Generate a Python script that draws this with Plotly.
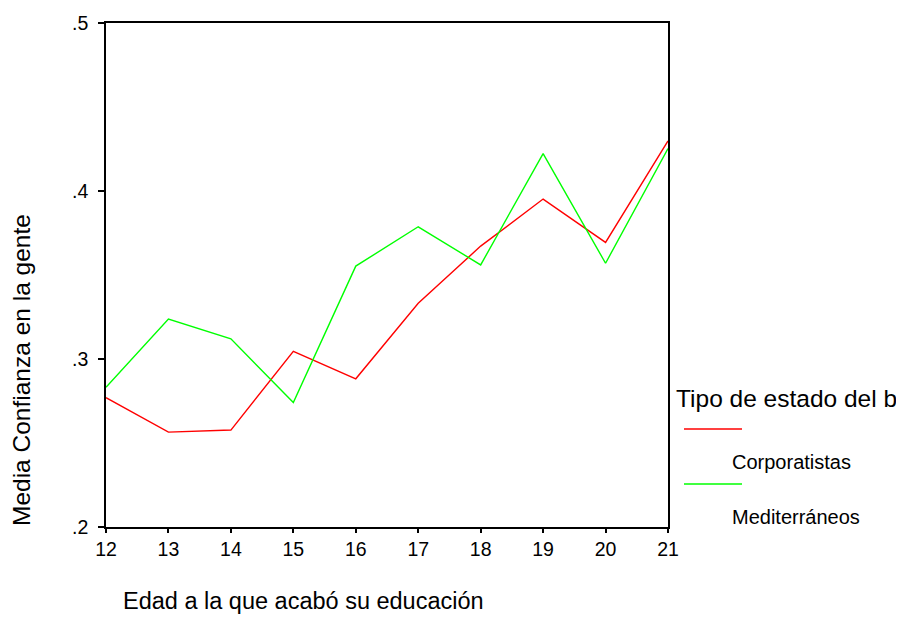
import plotly.graph_objects as go

edad = [12, 13, 14, 15, 16, 17, 18, 19, 20, 21]
corporatistas = [0.277, 0.2565, 0.2577, 0.3046, 0.2882, 0.3332, 0.3672, 0.3952, 0.3694, 0.4298]
mediterraneos = [0.2832, 0.3238, 0.312, 0.2741, 0.3553, 0.3787, 0.356, 0.4223, 0.357, 0.4253]
series_names = ["Corporatistas", "Mediterráneos"]
series_colors = ["#FF0000", "#00FF00"]
y_ticks = [0.2, 0.3, 0.4, 0.5]
y_ticktext = [".2", ".3", ".4", ".5"]

OFF = 8  # default page body margin
W, H = 904 - OFF, 617 - OFF
L, R, T, B = 106 - OFF, 236, 23 - OFF, 90
pw, ph = W - L - R, H - T - B

def px(x):
    return (x - OFF - L) / pw

def py(y):
    return (H - B - (y - OFF)) / ph

FONT = "Liberation Sans, Arial, sans-serif"

fig = go.Figure()
for name, vals, col in zip(series_names, [corporatistas, mediterraneos], series_colors):
    fig.add_trace(go.Scatter(x=edad, y=vals, mode="lines", name=name,
                             line=dict(color=col, width=1.4), showlegend=False))

fig.update_layout(
    width=W, height=H,
    margin=dict(l=L, r=R, t=T, b=B, pad=0, autoexpand=False),
    paper_bgcolor="white", plot_bgcolor="white",
    font=dict(family=FONT, color="black"),
    xaxis=dict(range=[12, 21], tickvals=edad, ticktext=[str(v) for v in edad],
               automargin=False,
               showgrid=False, zeroline=False, showline=True, linecolor="black",
               linewidth=1.5, mirror=True, ticks="outside", ticklen=4, tickwidth=2,
               tickcolor="black", tickfont=dict(size=19.5, family=FONT)),
    yaxis=dict(range=[0.2, 0.5], tickvals=y_ticks, ticktext=y_ticktext,
               automargin=False, ticklabelstandoff=6,
               showgrid=False, zeroline=False, showline=True, linecolor="black",
               linewidth=1.5, mirror=True, ticks="outside", ticklen=6, tickwidth=2,
               tickcolor="black", tickfont=dict(size=19.5, family=FONT)),
)

annotations = [
    dict(text="Edad a la que acabó su educación", x=px(303), y=py(601),
         font=dict(size=23.5)),
    dict(text="Media Confianza en la gente", x=px(21), y=py(370), textangle=-90,
         font=dict(size=24.5)),
    dict(text="Tipo de estado del b", x=px(674), y=py(398), xanchor="left",
         font=dict(size=24.5)),
    dict(text=series_names[0], x=px(730), y=py(462), xanchor="left",
         font=dict(size=20)),
    dict(text=series_names[1], x=px(730), y=py(517), xanchor="left",
         font=dict(size=20)),
]
for a in annotations:
    a.update(xref="paper", yref="paper", showarrow=False)
    a.setdefault("xanchor", "center")
    a["yanchor"] = "middle"
fig.update_layout(annotations=annotations)

for ly, col in zip([429, 484], series_colors):
    fig.add_shape(type="line", xref="paper", yref="paper",
                  x0=px(684), x1=px(742), y0=py(ly), y1=py(ly),
                  line=dict(color=col, width=1.4))

fig.write_html("out.html")
